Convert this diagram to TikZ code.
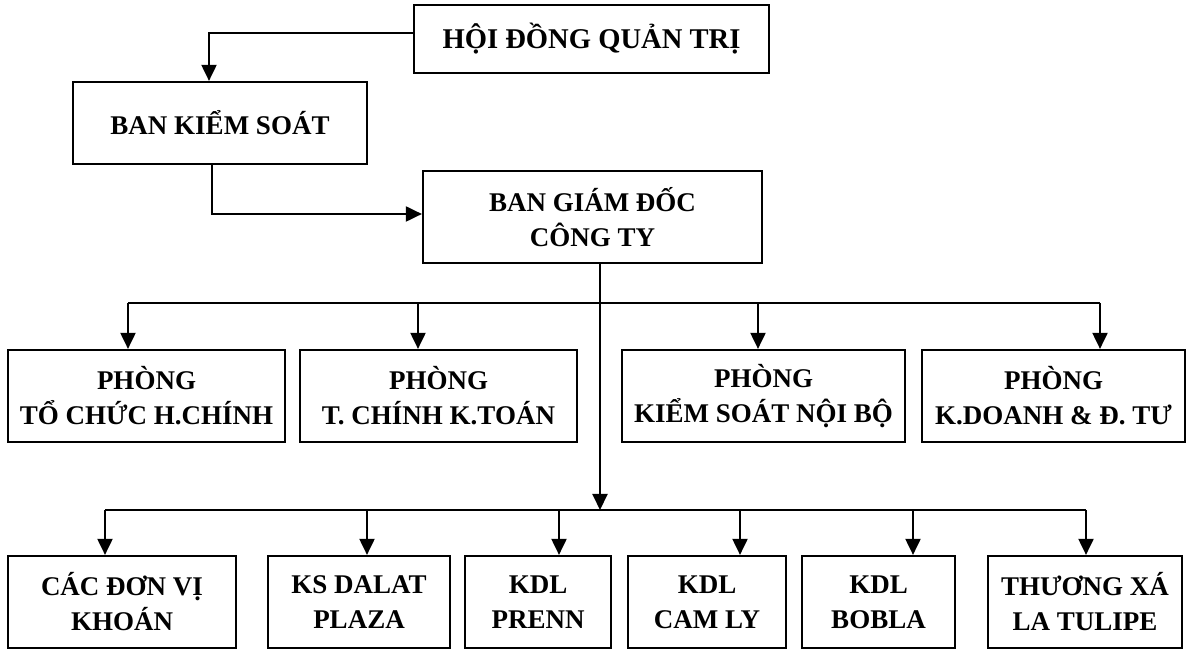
\documentclass[tikz,border=0pt]{standalone}
\usepackage{fontspec}
\setmainfont{Liberation Serif}
\usetikzlibrary{arrows.meta}

\begin{document}
\begin{tikzpicture}[x=0.5pt, y=-0.5pt,
  box/.style={draw, line width=1.1pt, align=center, inner sep=0pt, font=\fontsize{13.5}{17.5}\selectfont\bfseries},
  link/.style={line width=1pt},
  arr/.style={line width=1pt, -{Triangle[length=8pt,width=7.5pt]}}]

\useasboundingbox (0,0) rectangle (1188,651);

\node[box, minimum width=177.5pt, minimum height=34pt, font=\fontsize{14.3}{17.5}\selectfont\bfseries] (hdqt) at (591.5,39) {HỘI ĐỒNG QUẢN TRỊ};
\node[box, minimum width=147pt, minimum height=41pt] (bks) at (220,123) {BAN KIỂM SOÁT};
\node[box, minimum width=169.5pt, minimum height=46pt] (bgd) at (592.5,217) {BAN GIÁM ĐỐC\\CÔNG TY};

%phong ban
\node[box, minimum width=138.5pt, minimum height=46pt] (p1) at (146.5,396) {PHÒNG\\TỔ CHỨC H.CHÍNH};
\node[box, minimum width=138.5pt, minimum height=46pt] (p2) at (438.5,396) {PHÒNG\\T. CHÍNH K.TOÁN};
\node[box, minimum width=141.5pt, minimum height=46pt] (p3) at (763.5,396) {PHÒNG\\KIỂM SOÁT NỘI BỘ};
\node[box, minimum width=131.5pt, minimum height=46pt] (p4) at (1053.5,396) {PHÒNG\\K.DOANH \& Đ. TƯ};

%don vi
\node[box, minimum width=114pt, minimum height=46pt] (d1) at (122,602) {CÁC ĐƠN VỊ\\KHOÁN};
\node[box, minimum width=91pt, minimum height=46pt] (d2) at (359,602) {KS DALAT\\PLAZA};
\node[box, minimum width=73pt, minimum height=46pt] (d3) at (538,602) {KDL\\PRENN};
\node[box, minimum width=79pt, minimum height=46pt] (d4) at (707,602) {KDL\\CAM LY};
\node[box, minimum width=76.5pt, minimum height=46pt] (d5) at (878.5,602) {KDL\\BOBLA};
\node[box, minimum width=97pt, minimum height=46pt] (d6) at (1085,602) {THƯƠNG XÁ\\LA TULIPE};

\coordinate (t1) at (209,33);
\coordinate (t2) at (212,214);
\coordinate (t3) at (600,510);

\draw[arr] (hdqt.west |- t1) -- (t1) -- (t1 |- bks.north);
\draw[arr] (t2 |- bks.south) -- (t2) -- (t2 -| bgd.west);
\draw[arr] (t3 |- bgd.south) -- (t3);

\foreach \n/\x in {p1/128, p2/418, p3/758, p4/1100} {
  \coordinate (b\n) at (\x,303);
  \draw[arr] (b\n) -- (b\n |- \n.north);
}
\draw[link] (bp1) -- (bp4);

\foreach \n/\x in {d1/105, d2/367, d3/559, d4/740, d5/913, d6/1086} {
  \coordinate (b\n) at (\x,510);
  \draw[arr] (b\n) -- (b\n |- \n.north);
}
\draw[link] (bd1) -- (bd6);

\end{tikzpicture}
\end{document}
